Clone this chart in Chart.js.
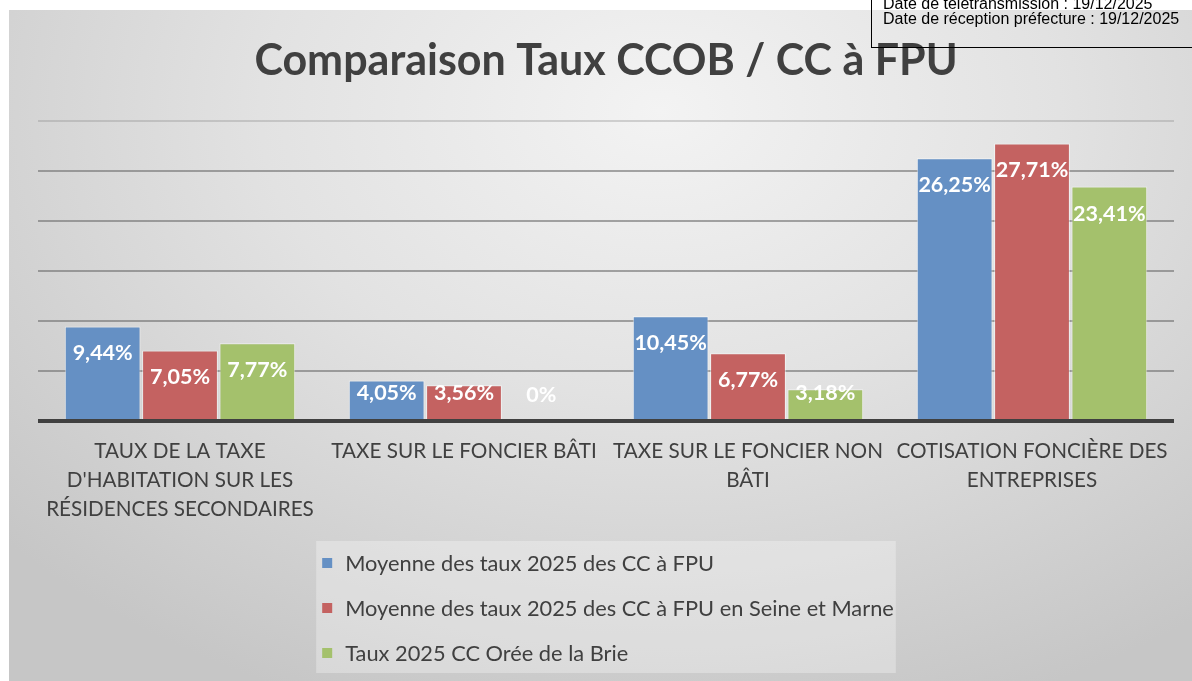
<!DOCTYPE html>
<html>
<head>
<meta charset="utf-8">
<script src="https://cdn.jsdelivr.net/npm/chart.js@4"></script>
<style>
  html, body { margin: 0; padding: 0; background: #fff; overflow: hidden; }
  body { width: 1192px; height: 681px; position: relative; }
  #wrap {
    position: absolute; left: 9px; top: 10px; width: 1183px; height: 671px;
    background: radial-gradient(ellipse 75% 95% at 55% 15%, #f3f3f3 0%, #e2e2e2 45%, #c6c6c6 100%);
  }
  #stamp {
    position: absolute; left: 871px; top: -16px; width: 340px; height: 64px;
    border: 1px solid #000; box-sizing: border-box;
    padding: 11px 0 0 11px;
    font: 16px "Liberation Sans", Arial, sans-serif; line-height: 15px; color: #000;
  }
</style>
</head>
<body>
<div id="wrap"><canvas id="chart1" width="1183" height="671"></canvas></div>
<div id="stamp">Date de télétransmission : 19/12/2025<br>Date de réception préfecture : 19/12/2025</div>
<script>
const categories = [
  ['TAUX DE LA TAXE', "D'HABITATION SUR LES", 'RÉSIDENCES SECONDAIRES'],
  ['TAXE SUR LE FONCIER BÂTI'],
  ['TAXE SUR LE FONCIER NON', 'BÂTI'],
  ['COTISATION FONCIÈRE DES', 'ENTREPRISES']
]
const moyenneFPU = [9.44, 4.05, 10.45, 26.25]
const moyenneSeineMarne = [7.05, 3.56, 6.77, 27.71]
const tauxOree = [7.77, 0, 3.18, 23.41]

const textColor = '#404040'
const fontFamily = 'Lato, "Open Sans", sans-serif'

const fmt = v => v === 0 ? '0%' : v.toFixed(2).replace('.', ',') + '%'

// white value labels inside the top of each bar
const barLabels = {
  id: 'barLabels',
  afterDatasetsDraw(chart) {
    const ctx = chart.ctx
    ctx.save()
    ctx.fillStyle = '#fff'
    ctx.font = 'bold 21.5px ' + fontFamily
    ctx.textAlign = 'center'
    ctx.textBaseline = 'middle'
    chart.data.datasets.forEach((ds, i) => {
      chart.getDatasetMeta(i).data.forEach((bar, j) => {
        const y = Math.min(bar.y + 27, bar.base - 26)
        ctx.fillText(fmt(ds.data[j]), bar.x, y)
      })
    })
    ctx.restore()
  }
}

// vertical legend in a light box under the axis
const boxLegend = {
  id: 'boxLegend',
  afterDraw(chart) {
    const ctx = chart.ctx
    const area = chart.chartArea
    ctx.save()
    ctx.font = '21.8px ' + fontFamily
    const widths = chart.data.datasets.map(ds => ctx.measureText(ds.label).width)
    const w = Math.max(...widths) + 31
    const x0 = (area.left + area.right) / 2 - w / 2
    const y0 = area.bottom + 120
    ctx.fillStyle = 'rgba(255,255,255,0.3)'
    ctx.fillRect(x0, y0, w, 132)
    ctx.textBaseline = 'middle'
    chart.data.datasets.forEach((ds, i) => {
      const cy = y0 + 22 + i * 45
      ctx.fillStyle = ds.backgroundColor
      ctx.fillRect(x0 + 6, cy - 5, 10, 10)
      ctx.fillStyle = textColor
      ctx.fillText(ds.label, x0 + 29, cy + 1)
    })
    ctx.restore()
  }
}

const cx1 = document.getElementById('chart1').getContext('2d')
const Bar1 = new Chart(cx1, {
  type: 'bar',
  data: {
    labels: categories,
    datasets: [
      {
        label: 'Moyenne des taux 2025 des CC à FPU',
        data: moyenneFPU,
        backgroundColor: '#6590c4',
      },
      {
        label: 'Moyenne des taux 2025 des CC à FPU en Seine et Marne',
        data: moyenneSeineMarne,
        backgroundColor: '#c46261',
      },
      {
        label: 'Taux 2025 CC Orée de la Brie',
        data: tauxOree,
        backgroundColor: '#a4c16c',
      }
    ]
  },
  options: {
    responsive: false,
    animation: false,
    categoryPercentage: 0.817,
    barPercentage: 0.98,
    borderColor: 'rgba(255,255,255,0.55)',
    borderWidth: 1,
    layout: {
      padding: { left: 29, right: 18, top: 0, bottom: 140 }
    },
    plugins: {
      legend: { display: false },
      tooltip: { enabled: false },
      title: {
        display: true,
        text: 'Comparaison Taux CCOB / CC à FPU',
        color: textColor,
        font: { family: fontFamily, size: 43, weight: 'bold', lineHeight: 1.2 },
        padding: { top: 25, bottom: 34 }
      }
    },
    scales: {
      x: {
        grid: { display: false, drawTicks: false },
        border: { display: false },
        ticks: {
          color: textColor,
          font: { family: fontFamily, size: 20.7, lineHeight: 1.4 },
          padding: 16,
          autoSkip: false,
          maxRotation: 0
        },
        afterFit: scale => { scale.height = 120 }
      },
      y: {
        min: 0,
        max: 30,
        ticks: { display: false, stepSize: 5 },
        border: { display: false },
        grid: {
          drawTicks: false,
          color: c => c.tick.value === 0 ? '#404040' : (c.tick.value === 30 ? 'rgba(140,140,140,0.35)' : 'rgba(110,110,110,0.6)'),
          lineWidth: c => c.tick.value === 0 ? 4 : 2
        },
        afterFit: scale => { scale.width = 0 }
      }
    }
  },
  plugins: [barLabels, boxLegend]
});
</script>
</body>
</html>
